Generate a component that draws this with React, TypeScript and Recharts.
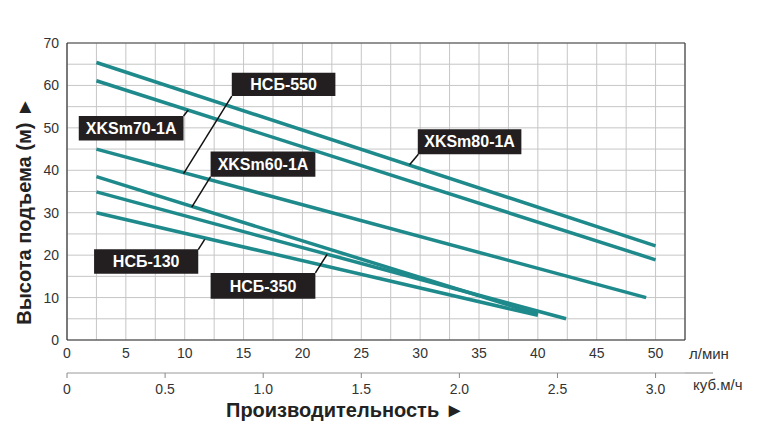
import { LineChart, Line, XAxis, YAxis, CartesianGrid, ReferenceLine, ReferenceArea } from 'recharts';

// Flow in l/min, head in m
const xkSm80 = [
  { q: 2.5, h: 65.4 },
  { q: 50, h: 22.2 },
];
const xkSm70 = [
  { q: 2.5, h: 61.1 },
  { q: 50, h: 18.9 },
];
const nsb550 = [
  { q: 2.5, h: 45.0 },
  { q: 49.2, h: 10.0 },
];
const xkSm60 = [
  { q: 2.5, h: 38.5 },
  { q: 40.0, h: 6.1 },
];
const nsb350 = [
  { q: 2.5, h: 34.9 },
  { q: 42.4, h: 5.0 },
];
const nsb130 = [
  { q: 2.5, h: 30.0 },
  { q: 40.0, h: 5.8 },
];

const series = [xkSm80, xkSm70, nsb550, xkSm60, nsb350, nsb130];

const flowTicks = [0, 2.5, 5, 7.5, 10, 12.5, 15, 17.5, 20, 22.5, 25, 27.5, 30, 32.5, 35, 37.5, 40, 42.5, 45, 47.5, 50];
const m3Ticks = [0, 0.5, 1.0, 1.5, 2.0, 2.5, 3.0];
const headTicks = [0, 5, 10, 15, 20, 25, 30, 35, 40, 45, 50, 55, 60, 65, 70];

// callout boxes: text, box corners and leader end (chart units)
const callouts = [
  { text: 'НСБ-550', x1: 14.0, x2: 22.8, y1: 57.5, y2: 63.0, from: [14.0, 57.5], to: [9.9, 39.2] },
  { text: 'XKSm70-1A', x1: 1.0, x2: 9.9, y1: 47.0, y2: 52.8, from: [9.9, 52.8], to: [10.3, 54.2] },
  { text: 'XKSm60-1A', x1: 12.2, x2: 21.1, y1: 38.5, y2: 44.4, from: [12.2, 38.5], to: [10.6, 31.3] },
  { text: 'НСБ-130', x1: 2.3, x2: 11.15, y1: 15.6, y2: 21.4, from: [11.15, 21.3], to: [11.7, 23.7] },
  { text: 'НСБ-350', x1: 12.2, x2: 21.1, y1: 9.7, y2: 15.8, from: [21.1, 15.8], to: [22.1, 20.2] },
  { text: 'XKSm80-1A', x1: 29.8, x2: 38.6, y1: 43.8, y2: 49.7, from: [29.85, 43.8], to: [29.1, 41.3] },
];

const teal = '#1f8a8c';
const font = "'Liberation Sans Narrow', 'Liberation Sans', Arial, sans-serif";
const W = 765;
const H = 421;

export default function App() {
  return (
    <div style={{ position: 'relative', width: W, height: H, fontFamily: font }}>
      <LineChart width={W} height={H} margin={{ top: 35, right: 88, left: 0, bottom: 12 }}>
        <CartesianGrid xAxisId="lpm" stroke="#c6c6c6" strokeWidth={1} />
        <XAxis
          xAxisId="lpm"
          dataKey="q"
          type="number"
          domain={[0, 52.5]}
          allowDataOverflow
          ticks={flowTicks}
          interval={0}
          height={33}
          tickLine={false}
          tickSize={4}
          tickMargin={4}
          tickFormatter={(v) => (v % 5 === 0 ? String(v) : '')}
          tick={{ fontSize: 14, fill: '#333', fontFamily: font }}
          axisLine={{ stroke: '#333', strokeWidth: 1.2 }}
        />
        <XAxis
          xAxisId="m3"
          dataKey="q"
          type="number"
          domain={[0, 3.15]}
          allowDataOverflow
          ticks={m3Ticks}
          interval={0}
          height={44}
          tickSize={5}
          tickMargin={6}
          tickFormatter={(v) => (Number(v) === 0 ? '0' : Number(v).toFixed(1))}
          tick={{ fontSize: 14, fill: '#333', fontFamily: font }}
          tickLine={{ stroke: '#888' }}
          axisLine={{ stroke: '#999', strokeWidth: 1.2 }}
        />
        <YAxis
          type="number"
          domain={[0, 70]}
          ticks={headTicks}
          interval={0}
          width={59}
          tickLine={false}
          tickSize={4}
          tickMargin={4}
          tickFormatter={(v) => (v % 10 === 0 ? String(v) : '')}
          tick={{ fontSize: 14, fill: '#333', fontFamily: font }}
          axisLine={{ stroke: '#333', strokeWidth: 1.2 }}
        />
        <ReferenceLine xAxisId="lpm" y={70} stroke="#444" strokeWidth={1.2} />
        <ReferenceLine xAxisId="lpm" x={52.5} stroke="#444" strokeWidth={1.2} />
        <ReferenceLine xAxisId="m3" x={3.15} stroke="none" />
        {series.map((d, i) => (
          <Line
            key={i}
            xAxisId="lpm"
            data={d}
            dataKey="h"
            type="linear"
            stroke={teal}
            strokeWidth={3.5}
            dot={false}
            activeDot={false}
            isAnimationActive={false}
          />
        ))}
        {callouts.map((c) => (
          <ReferenceLine
            key={c.text + '-lead'}
            xAxisId="lpm"
            segment={[
              { x: c.from[0], y: c.from[1] },
              { x: c.to[0], y: c.to[1] },
            ]}
            stroke="#111"
            strokeWidth={1.5}
          />
        ))}
        {callouts.map((c) => (
          <ReferenceArea
            key={c.text}
            xAxisId="lpm"
            x1={c.x1}
            x2={c.x2}
            y1={c.y1}
            y2={c.y2}
            fill="#231f20"
            fillOpacity={1}
            stroke="none"
            label={{
              value: c.text,
              position: 'center',
              fill: '#fff',
              fontSize: 16,
              fontWeight: 'bold',
              fontFamily: "'Liberation Sans', Arial, sans-serif",
            }}
          />
        ))}
      </LineChart>
      <svg
        width={W}
        height={H}
        style={{ position: 'absolute', left: 0, top: 0, pointerEvents: 'none' }}
      >
        <line x1={677} y1={365} x2={705} y2={365} stroke="#999" strokeWidth={1.2} />
        <text x={681} y={351} fontSize={15} fill="#333" fontFamily={font}>
          л/мин
        </text>
        <text x={685} y={382} fontSize={15} fill="#333" fontFamily={font}>
          куб.м/ч
        </text>
        <text x={218} y={409} fontSize={20} fontWeight="bold" fill="#222" fontFamily={font}>
          Производительность ►
        </text>
        <text
          x={16}
          y={203}
          fontSize={20}
          fontWeight="bold"
          fill="#222"
          fontFamily={font}
          textAnchor="middle"
          dominantBaseline="central"
          transform="rotate(-90 16 203)"
        >
          Высота подъема (м) ►
        </text>
      </svg>
    </div>
  );
}
